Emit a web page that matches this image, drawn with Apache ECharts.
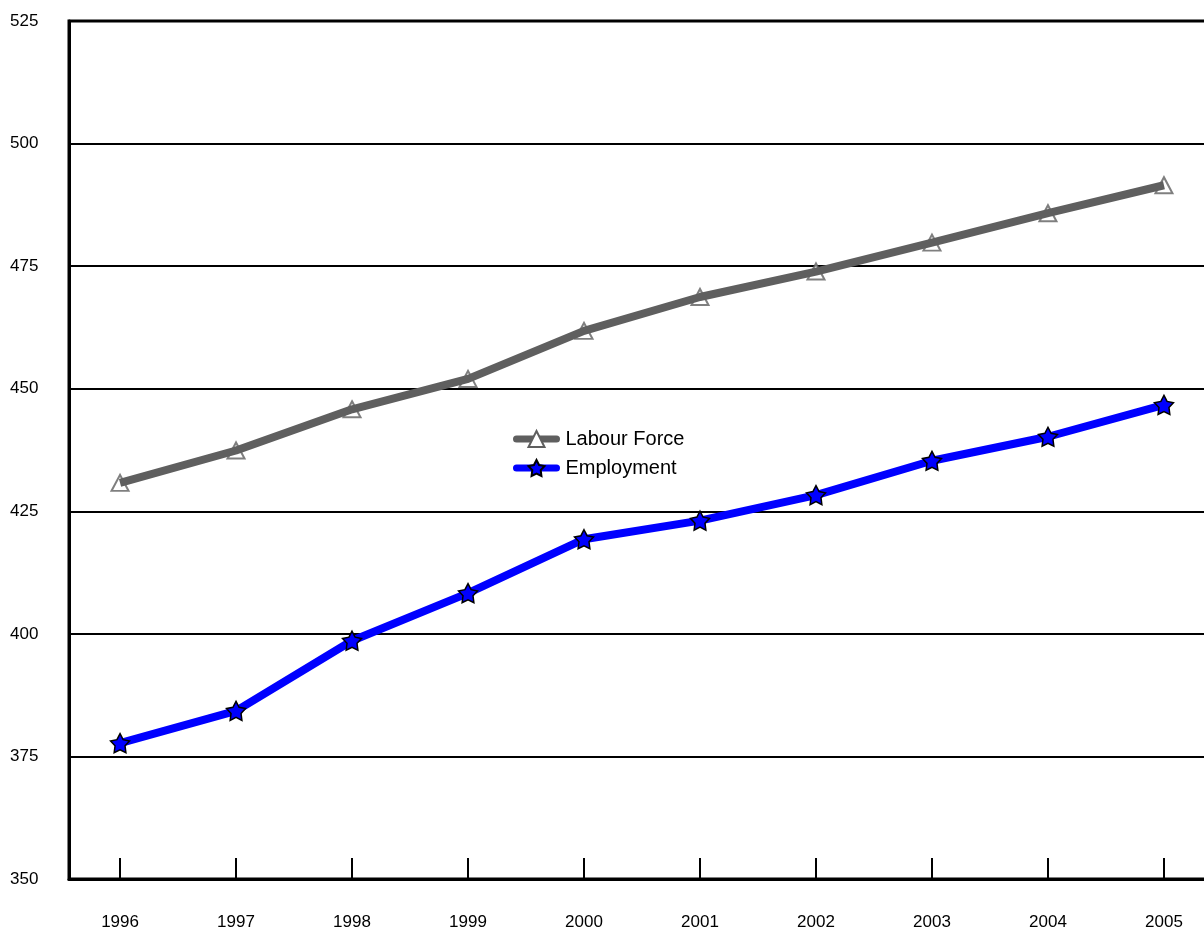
<!DOCTYPE html>
<html>
<head>
<meta charset="utf-8">
<title>Labour Force and Employment, 1996-2005</title>
<script src="https://cdn.jsdelivr.net/npm/echarts@6/dist/echarts.min.js"></script>
<style>
  html, body { margin: 0; padding: 0; background: #fff; }
  #chart { width: 1204px; height: 930px; }
</style>
</head>
<body>
<div id="chart"></div>
<script>
// Years shown along the horizontal axis
const years = [1996, 1997, 1998, 1999, 2000, 2001, 2002, 2003, 2004, 2005];
// Labour force (thousands)
const labourForce = [430.8, 437.4, 445.8, 452.0, 461.8, 468.7, 473.9, 479.8, 485.8, 491.5];
// Employment (thousands)
const employment = [377.7, 384.3, 398.6, 408.3, 419.3, 423.1, 428.3, 435.3, 440.2, 446.7];
// Vertical axis range and step
const yMin = 350, yMax = 525, yStep = 25;

const pairs = (vals) => years.map((y, i) => [y, vals[i]]);

const FONT = '"Liberation Sans", Arial, sans-serif';
const GREY = '#5f5f5f';
const BLUE = '#0000ff';
const STAR = 'path://M100,0 L131,57 L195.1,69.1 L150,115 L158.8,180.9 L100,153 L41.2,180.9 L50,115 L4.9,69.1 L69,57 Z';

const chart = echarts.init(document.getElementById('chart'), null, { renderer: 'canvas' });

chart.setOption({
  animation: false,
  backgroundColor: '#fff',
  textStyle: { fontFamily: FONT },
  grid: {
    left: 69, top: 21, width: 1146, height: 858,
    outerBoundsMode: 'none',
    containLabel: false,
    show: true, borderColor: '#000', borderWidth: 3, backgroundColor: 'transparent'
  },
  legend: {
    data: ['Labour Force', 'Employment'],
    orient: 'vertical',
    left: 513, top: 429,
    padding: 0,
    itemWidth: 40, itemHeight: 20, itemGap: 9,
    lineStyle: { width: 7, cap: 'round' },
    textStyle: { fontFamily: FONT, fontSize: 20, color: '#000', padding: [0, 0, 0, 4] },
    selectedMode: false
  },
  xAxis: {
    type: 'value',
    min: 1995.56, max: 2005.44,
    axisLine: { show: true, lineStyle: { color: '#000', width: 3 } },
    axisTick: {
      show: true, inside: true, length: 21,
      customValues: years,
      lineStyle: { color: '#000', width: 2 }
    },
    axisLabel: {
      customValues: years,
      formatter: (v) => String(Math.round(v)),
      color: '#000', fontFamily: FONT, fontSize: 17, margin: 35
    },
    splitLine: { show: false }
  },
  yAxis: {
    type: 'value',
    min: yMin, max: yMax, interval: yStep,
    axisLine: { show: true, lineStyle: { color: '#000', width: 3 } },
    axisTick: { show: false },
    axisLabel: { color: '#000', fontFamily: FONT, fontSize: 17, align: 'left', margin: 59 },
    splitLine: { show: true, lineStyle: { color: '#000', width: 2 } }
  },
  series: [
    {
      // hollow triangles sit underneath the grey line
      name: 'Labour Force markers',
      type: 'scatter',
      data: pairs(labourForce),
      symbol: 'triangle',
      symbolSize: [17, 16],
      itemStyle: { color: '#fff', borderColor: GREY, borderWidth: 2 },
      silent: true,
      z: 2
    },
    {
      name: 'Labour Force',
      type: 'line',
      data: pairs(labourForce),
      showSymbol: false,
      symbol: 'triangle',
      itemStyle: { color: '#fff', borderColor: GREY, borderWidth: 2 },
      lineStyle: { color: GREY, width: 8 },
      silent: true,
      z: 3
    },
    {
      name: 'Employment',
      type: 'line',
      data: pairs(employment),
      showSymbol: true,
      symbol: STAR,
      symbolSize: 19,
      itemStyle: { color: BLUE, borderColor: '#000', borderWidth: 1.5 },
      lineStyle: { color: BLUE, width: 8 },
      silent: true,
      z: 4
    }
  ]
});
</script>
</body>
</html>
